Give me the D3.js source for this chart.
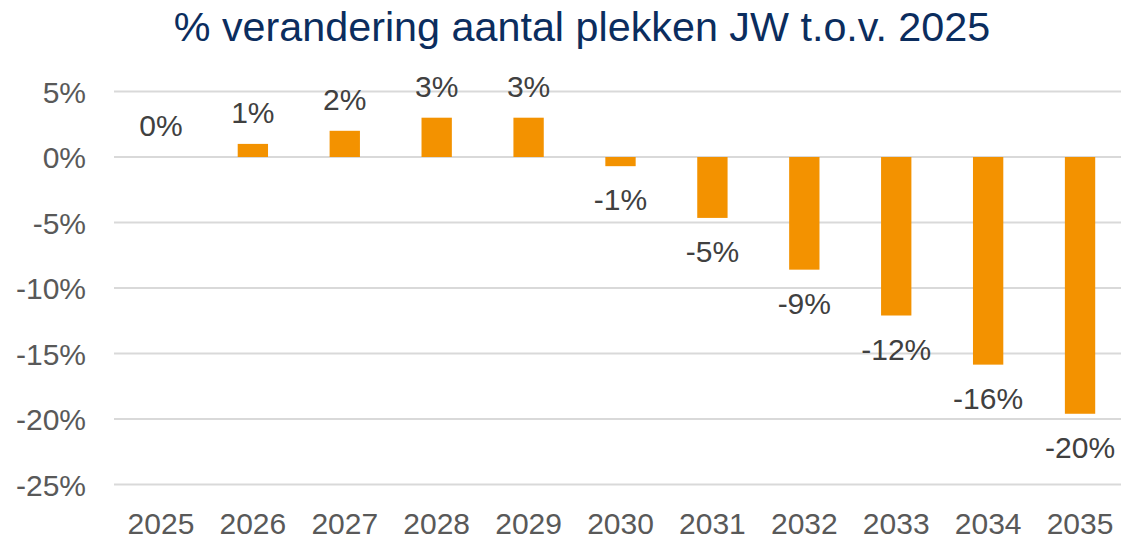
<!DOCTYPE html>
<html>
<head>
<meta charset="utf-8">
<script src="https://cdn.jsdelivr.net/npm/d3@7"></script>
<style>
    body { margin: 0; background: #fff; }
    svg { display: block; font-family: 'Liberation Sans', Arial, sans-serif; }
    .grid line { stroke: #d9d9d9; stroke-width: 2; }
    .axis text { fill: #595959; font-size: 30px; }
    .label { fill: #404040; font-size: 30px; }
</style>
</head>
<body>
<div id="chart"></div>
<script>
// chart data
const years = ['2025','2026','2027','2028','2029','2030','2031','2032','2033','2034','2035'];
const change = [0, 1.0, 2.0, 3.0, 3.0, -0.7, -4.65, -8.6, -12.1, -15.85, -19.6];
const labels = ['0%','1%','2%','3%','3%','-1%','-5%','-9%','-12%','-16%','-20%'];
const yTicks = [5, 0, -5, -10, -15, -20, -25];
const title = '% verandering aantal plekken JW t.o.v. 2025';

const data = years.map((d, i) => ({year: d, value: change[i], label: labels[i]}));

// setup/layout variables
const width = 1121;
const height = 540;
const margin = {t: 91.5, r: -5, b: 55.5, l: 115};

const svg = d3.select('#chart')
    .append('svg')
    .attr('width', width)
    .attr('height', height);

// scales
const scaleX = d3.scaleBand()
    .domain(years)
    .range([margin.l, width - margin.r])
    .padding(0);

const scaleY = d3.scaleLinear()
    .domain([-25, 5])
    .range([height - margin.b, margin.t]);

const barW = scaleX.bandwidth() * 0.33;

// title
svg.append('text')
    .attr('x', 582)
    .attr('y', 41)
    .attr('text-anchor', 'middle')
    .attr('fill', '#0b2d5e')
    .style('font-size', '41.3px')
    .text(title);

// gridlines
svg.append('g')
    .attr('class', 'grid')
    .selectAll('line')
    .data(yTicks)
    .enter()
    .append('line')
    .attr('x1', margin.l - 1)
    .attr('x2', width)
    .attr('y1', d => scaleY(d))
    .attr('y2', d => scaleY(d));

// y axis labels
const axisY = d3.axisLeft(scaleY)
    .tickValues(yTicks)
    .tickSize(0)
    .tickPadding(0)
    .tickFormat(d => d + '%');

const axisYNode = svg.append('g')
    .attr('class', 'axis axis-y')
    .attr('transform', 'translate(86,0)')
    .call(axisY);
axisYNode.select('.domain').remove();
axisYNode.selectAll('text').attr('dy', '0.36em');

// x axis labels
const axisX = d3.axisBottom(scaleX)
    .tickSize(0)
    .tickPadding(0);

const axisXNode = svg.append('g')
    .attr('class', 'axis axis-x')
    .attr('transform', 'translate(0,534)')
    .call(axisX);
axisXNode.select('.domain').remove();
axisXNode.selectAll('text').attr('dy', 0).attr('y', 0);

// bars
svg.append('g')
    .selectAll('rect')
    .data(data)
    .enter()
    .append('rect')
    .attr('fill', '#f39200')
    .attr('x', d => scaleX(d.year) + scaleX.bandwidth() / 2 - barW / 2)
    .attr('width', barW)
    .attr('y', d => scaleY(Math.max(0, d.value)))
    .attr('height', d => Math.abs(scaleY(d.value) - scaleY(0)));

// data labels
svg.append('g')
    .selectAll('text')
    .data(data)
    .enter()
    .append('text')
    .attr('class', 'label')
    .attr('text-anchor', 'middle')
    .attr('x', d => scaleX(d.year) + scaleX.bandwidth() / 2)
    .attr('y', d => d.value >= 0 ? scaleY(d.value) - 21 : scaleY(d.value) + 44)
    .text(d => d.label);
</script>
</body>
</html>
